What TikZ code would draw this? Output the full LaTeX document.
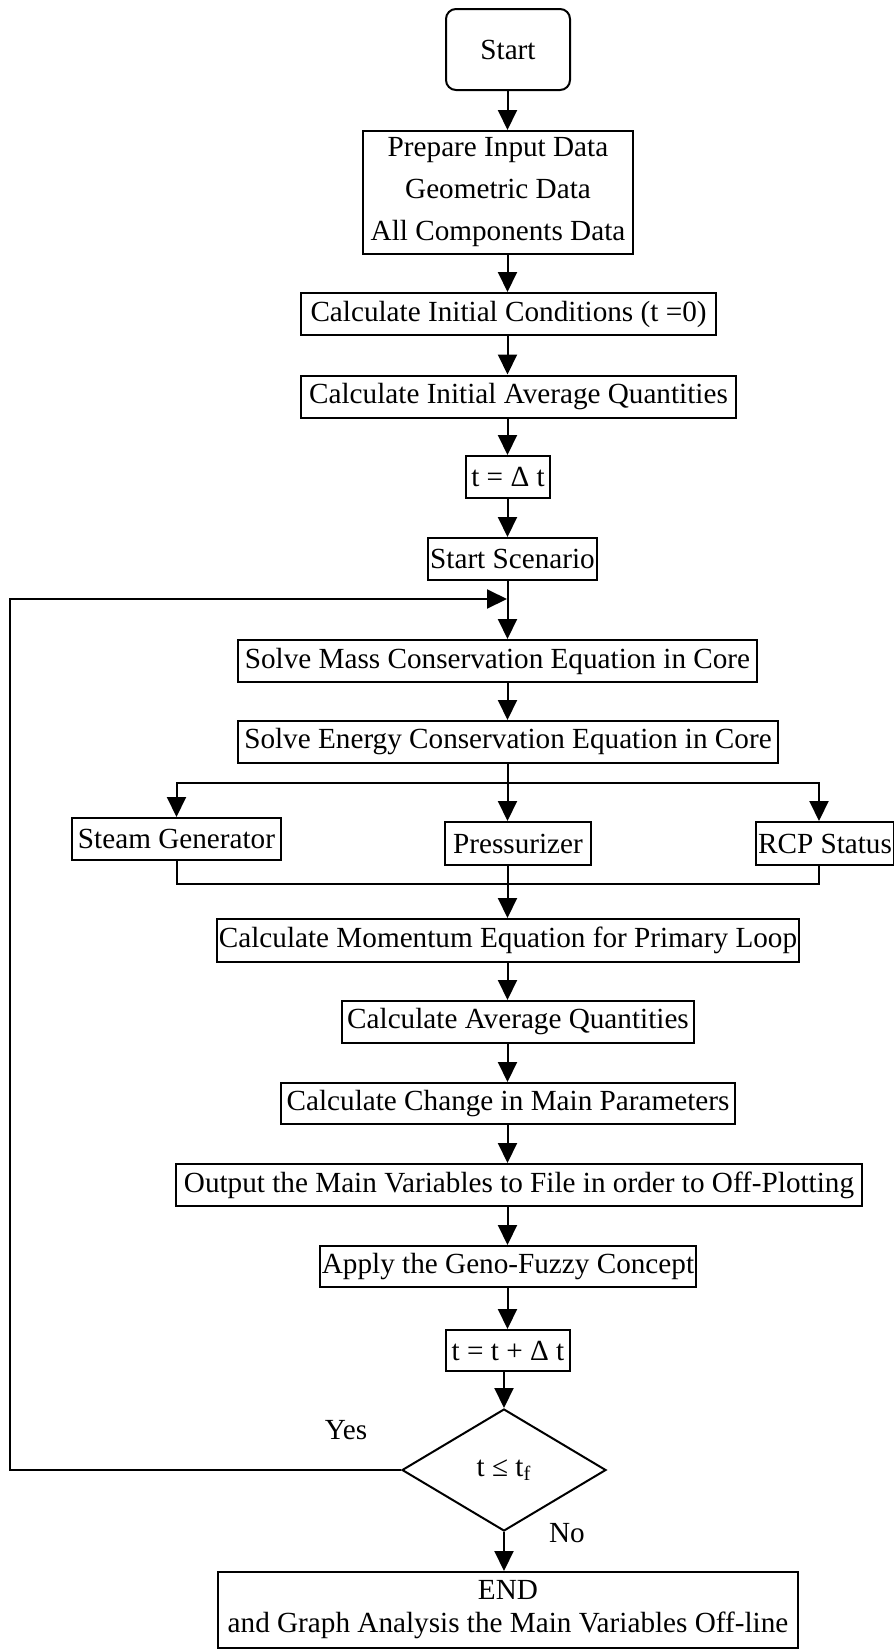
\documentclass[tikz,border=0pt]{standalone}
\usepackage{fontspec}
\setmainfont{Liberation Serif}
\usepackage{tikz}
\usetikzlibrary{shapes.geometric, arrows.meta, positioning, calc}
\tikzstyle{startstop} = [rectangle, rounded corners=5pt, minimum width=62pt, minimum height=40.5pt, text centered, draw=black, line width=1pt]
\tikzstyle{process} = [rectangle, minimum height=21pt, inner xsep=1pt, inner ysep=0pt, text centered, draw=black, line width=1pt]
\tikzstyle{decision} = [diamond, minimum width=102pt, minimum height=61pt, inner sep=0pt, text centered, draw=black, line width=1pt]
\tikzstyle{arrow} = [line width=1pt, -{Triangle[length=10pt, width=9.5pt]}]
\tikzstyle{line} = [line width=1pt]

\begin{document}
\begin{tikzpicture}[x=0.5pt, y=-0.5pt, font=\fontsize{14.6}{17.5}\selectfont]
\useasboundingbox (0,0) rectangle (894,1649);
\coordinate (axis) at (507.5,0);

\node (start) [startstop] at (508,49.5) {Start};
\node (prep) [process, align=center, minimum width=135pt, minimum height=61.5pt, font=\fontsize{14.6}{21}\selectfont] at (498,192.5) {Prepare Input Data\\Geometric Data\\All Components Data};
\node (init) [process, minimum width=207.5pt] at (508.5,314) {Calculate Initial Conditions (t =0)};
\node (initavg) [process, minimum width=217.5pt] at (518.5,396.5) {Calculate Initial Average Quantities};
\node (tzero) [process, minimum width=42pt] at (508,477) {t = Δ t};
\node (scen) [process, minimum width=83.5pt] at (512.5,559) {Start Scenario};
\node (mass) [process, minimum width=259.5pt] at (497.5,661) {Solve Mass Conservation Equation in Core};
\node (energy) [process, minimum width=270pt] at (508,742) {Solve Energy Conservation Equation in Core};
\node (sg) [process, minimum width=104.5pt] at (176.5,839) {Steam Generator};
\node (press) [process, minimum width=73pt, minimum height=21.5pt] at (518,843.5) {Pressurizer};
\node (rcp) [process, minimum width=68pt, minimum height=21.5pt] at (825,843.5) {RCP Status};
\node (mom) [process, minimum width=290pt, minimum height=21.5pt] at (508,940.5) {Calculate Momentum Equation for Primary Loop};
\node (avg) [process, minimum width=176pt] at (518,1022) {Calculate Average Quantities};
\node (change) [process, minimum width=227pt, minimum height=20.5pt] at (508,1103.5) {Calculate Change in Main Parameters};
\node (output) [process, minimum width=343pt] at (519,1185) {Output the Main Variables to File in order to Off-Plotting};
\node (apply) [process, minimum width=186pt, minimum height=20.5pt] at (508,1266.5) {Apply the Geno-Fuzzy Concept};
\node (tnext) [process, minimum width=62pt, minimum height=20.5pt] at (508,1350.5) {t = t + Δ t};
\node (check) [decision] at (504,1470) {t ≤ t\textsubscript{f}};
\node (finish) [process, align=center, minimum width=290pt, minimum height=38pt, font=\fontsize{14.6}{16.5}\selectfont] at (508,1610) {END\\and Graph Analysis the Main Variables Off-line};
\node (yes) at (346,1430) {Yes};
\node (no) at (567,1533) {No};

\coordinate (loopin) at (507,599);
\coordinate (loopleft) at (10,599);
\coordinate (split) at (507.5,783);
\coordinate (join) at (507.5,884);

\draw [arrow] (start.south -| axis) -- (prep.north -| axis);
\draw [arrow] (prep.south -| axis) -- (init.north -| axis);
\draw [arrow] (init.south -| axis) -- (initavg.north -| axis);
\draw [arrow] (initavg.south -| axis) -- (tzero.north -| axis);
\draw [arrow] (tzero.south -| axis) -- (scen.north -| axis);
\draw [arrow] (scen.south -| axis) -- (mass.north -| axis);
\draw [arrow] (mass.south -| axis) -- (energy.north -| axis);
\draw [arrow] (energy.south -| axis) -- (press.north -| axis);
\draw [arrow] (split) -| (sg.north);
\draw [arrow] (split) -| ([xshift=-3pt]rcp.north);
\draw [line] (sg.south) |- (join);
\draw [line] ([xshift=-3pt]rcp.south) |- (join);
\draw [arrow] (press.south -| axis) -- (mom.north -| axis);
\draw [arrow] (mom.south -| axis) -- (avg.north -| axis);
\draw [arrow] (avg.south -| axis) -- (change.north -| axis);
\draw [arrow] (change.south -| axis) -- (output.north -| axis);
\draw [arrow] (output.south -| axis) -- (apply.north -| axis);
\draw [arrow] (apply.south -| axis) -- (tnext.north -| axis);
\draw [arrow] (tnext.south -| check) -- (check.north);
\draw [arrow] (check.south) -- (finish.north -| check);
\draw [arrow] (check.west) -| (loopleft) -- (loopin);
\end{tikzpicture}
\end{document}
